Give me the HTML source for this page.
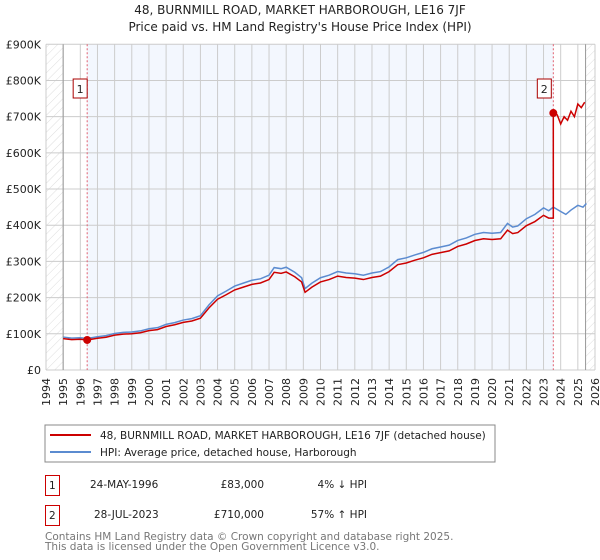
<!DOCTYPE html>
<html><head><meta charset="utf-8"><style>
body{margin:0;background:#fff;font-family:"DejaVu Sans","Liberation Sans",sans-serif}
svg{display:block}
</style></head><body>
<svg id="c" width="600" height="560" font-family="DejaVu Sans, Liberation Sans, sans-serif">
<defs><pattern id="hatch" width="6" height="6" patternUnits="userSpaceOnUse" patternTransform="rotate(45)"><line x1="0" y1="0" x2="0" y2="6" stroke="#d4d4d4" stroke-width="0.8"/></pattern></defs>
<text x="300" y="14" text-anchor="middle" font-size="12" fill="#222">48, BURNMILL ROAD, MARKET HARBOROUGH, LE16 7JF</text>
<text x="300" y="31" text-anchor="middle" font-size="12" fill="#222">Price paid vs. HM Land Registry's House Price Index (HPI)</text>
<g id="plot"></g>
<rect x="45" y="425" width="450" height="37" fill="#fff" stroke="#888"/>
<line x1="50" y1="435" x2="91" y2="435" stroke="#cc0000" stroke-width="2"/>
<text x="100" y="439" font-size="10.5" fill="#222">48, BURNMILL ROAD, MARKET HARBOROUGH, LE16 7JF (detached house)</text>
<line x1="50" y1="452" x2="91" y2="452" stroke="#5b8bd0" stroke-width="2"/>
<text x="100" y="456" font-size="10.5" fill="#222">HPI: Average price, detached house, Harborough</text>
<g font-size="10.5" fill="#222">
<rect x="45.5" y="475.5" width="14" height="20" fill="#fff" stroke="#cc0000"/><text x="49" y="489">1</text>
<text x="90" y="488">24-MAY-1996</text><text x="264" y="488" text-anchor="end">£83,000</text><text x="367" y="488" text-anchor="end">4% ↓ HPI</text></g>
<g font-size="10.5" fill="#222">
<rect x="45.5" y="505.5" width="14" height="20" fill="#fff" stroke="#cc0000"/><text x="49" y="519">2</text>
<text x="94" y="518">28-JUL-2023</text><text x="264" y="518" text-anchor="end">£710,000</text><text x="367" y="518" text-anchor="end">57% ↑ HPI</text></g>
<text x="45" y="540" font-size="10.5" fill="#777">Contains HM Land Registry data © Crown copyright and database right 2025.</text>
<text x="45" y="550" font-size="10.5" fill="#777">This data is licensed under the Open Government Licence v3.0.</text>
</svg>
<script>
const yearTicks=[1994,1995,1996,1997,1998,1999,2000,2001,2002,2003,2004,2005,2006,2007,2008,2009,2010,2011,2012,2013,2014,2015,2016,2017,2018,2019,2020,2021,2022,2023,2024,2025,2026];
const priceTicks=[0,100000,200000,300000,400000,500000,600000,700000,800000,900000];
const priceLabels=["£0","£100K","£200K","£300K","£400K","£500K","£600K","£700K","£800K","£900K"];
const hpiDates=[1995,1995.5,1996,1996.4,1997,1997.5,1998,1998.5,1999,1999.5,2000,2000.5,2001,2001.5,2002,2002.5,2003,2003.5,2004,2004.5,2005,2005.5,2006,2006.5,2007,2007.3,2007.7,2008,2008.5,2008.9,2009.1,2009.5,2010,2010.5,2011,2011.5,2012,2012.5,2013,2013.5,2014,2014.5,2015,2015.5,2016,2016.5,2017,2017.5,2018,2018.5,2019,2019.5,2020,2020.5,2020.9,2021.2,2021.5,2022,2022.5,2023,2023.3,2023.57,2024,2024.3,2024.6,2025,2025.3,2025.5];
const hpiValues=[91000,88000,89000,87000,92000,95000,101000,104000,105000,108000,114000,117000,126000,131000,138000,142000,150000,180000,205000,218000,232000,240000,248000,252000,262000,283000,280000,284000,270000,255000,225000,240000,255000,262000,272000,268000,266000,262000,268000,272000,285000,305000,310000,318000,325000,335000,340000,345000,358000,365000,375000,380000,378000,380000,405000,395000,398000,418000,430000,448000,440000,450000,438000,430000,442000,455000,450000,460000];
const sale1=[1996.4,83000];
const sale2=[2023.57,710000];
const afterDates=[2023.57,2023.8,2024,2024.2,2024.4,2024.6,2024.8,2025,2025.2,2025.4];
const afterValues=[710000,705000,680000,700000,690000,715000,700000,735000,725000,740000];
const X0=46,X1=595,Y0=370,Y1=44.3;
const xs=t=>X0+(t-1994)/32*(X1-X0);
const ys=v=>Y0-v/900000*(Y0-Y1);
const NS='http://www.w3.org/2000/svg';
const g=document.getElementById('plot');
function el(tag,attrs,name,parent){const e=document.createElementNS(NS,tag);for(const k in attrs)e.setAttribute(k,attrs[k]);


(parent||g).appendChild(e);return e;}
el('rect',{x:X0,y:Y1,width:X1-X0,height:Y0-Y1,fill:'#fff'},'plot-background');
el('rect',{x:xs(sale1[0]),y:Y1,width:xs(sale2[0])-xs(sale1[0]),height:Y0-Y1,fill:'#f3f7fe'},'ownership-shading');
el('rect',{x:X0,y:Y1,width:xs(1995)-X0,height:Y0-Y1,fill:'url(#hatch)'},'hatch-left');
el('rect',{x:xs(2025.45),y:Y1,width:X1-xs(2025.45),height:Y0-Y1,fill:'url(#hatch)'},'hatch-right');
yearTicks.forEach(t=>{el('line',{x1:xs(t),x2:xs(t),y1:Y1,y2:Y0,stroke:'#ccc'},'x-gridline');
const tx=el('text',{x:0,y:0,'font-size':11,fill:'#222','text-anchor':'end',transform:`translate(${xs(t)+4},${Y0+8}) rotate(-90)`},'x-tick-label');tx.textContent=t;});
priceTicks.forEach((v,i)=>{el('line',{x1:X0,x2:X1,y1:ys(v),y2:ys(v),stroke:'#ccc'},'y-gridline');
const tx=el('text',{x:X0-5,y:ys(v)+4,'font-size':11,fill:'#222','text-anchor':'end'},'y-tick-label');tx.textContent=priceLabels[i];});
el('line',{x1:xs(1995),x2:xs(1995),y1:Y1,y2:Y0,stroke:'#999'},'data-start-line');
el('line',{x1:xs(2025.45),x2:xs(2025.45),y1:Y1,y2:Y0,stroke:'#999'},'data-end-line');
[sale1,sale2].forEach((s,i)=>el('line',{x1:xs(s[0]),x2:xs(s[0]),y1:Y1,y2:Y0,stroke:'#e06070','stroke-dasharray':'2,2'},'sale-marker-line-'+(i+1)));
el('polyline',{points:hpiDates.map((t,i)=>xs(t)+','+ys(hpiValues[i])).join(' '),fill:'none',stroke:'#5b8bd0','stroke-width':1.5},'hpi-line');
const ratio=sale1[1]/87000;
const pts=[];hpiDates.forEach((t,i)=>{if(t>=sale1[0]-0.01&&t<sale2[0])pts.push(xs(t)+','+ys(hpiValues[i]*ratio));});
const pre=[];hpiDates.forEach((t,i)=>{if(t<sale1[0])pre.push(xs(t)+','+ys(hpiValues[i]*ratio));});
pre.push(xs(sale1[0])+','+ys(sale1[1]));
pts.push(xs(sale2[0])+','+ys(hpiValues[hpiDates.indexOf(2023.3)]*ratio));
afterDates.forEach((t,i)=>pts.push(xs(t)+','+ys(afterValues[i])));
el('polyline',{points:pre.concat(pts).join(' '),fill:'none',stroke:'#cc0000','stroke-width':1.5},'property-line');
[sale1,sale2].forEach((s,i)=>el('circle',{cx:xs(s[0]),cy:ys(s[1]),r:4,fill:'#cc0000'},'sale-point-'+(i+1)));
[[sale1,'1',-1],[sale2,'2',-3]].forEach(([s,l,off],i)=>{
el('rect',{x:xs(s[0])-13+off,y:79,width:14,height:19,fill:'#fff',stroke:'#aa0000'},'sale-badge-'+l);
const tx=el('text',{x:xs(s[0])-6+off,y:93,'font-size':11,fill:'#222','text-anchor':'middle'},'sale-badge-label-'+l);tx.textContent=l;});
</script>
</body></html>
